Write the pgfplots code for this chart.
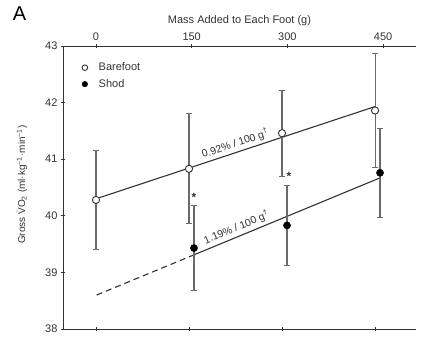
\documentclass[border=0pt]{standalone}
\usepackage{pgfplots}
\pgfplotsset{compat=1.18}
\usepackage{fontspec}
\setmainfont{Liberation Sans}
\definecolor{ink}{HTML}{333333}
\definecolor{ebar}{HTML}{6A6A6A}
\pgfplotstableread{
x y e
0 40.28 0.87
150 40.83 0.97
300 41.46 0.76
450 41.86 1.00
}\barefoot
\pgfplotstableread{
x y e
158 39.43 0.75
308 39.83 0.71
458 40.76 0.79
}\shod
\begin{document}
\begin{tikzpicture}[x=1pt,y=1pt]
\begin{axis}[
  at={(0,0)}, anchor=south west,
  scale only axis, width=353pt, height=283pt,
  xmin=-53.2, xmax=516, ymin=38, ymax=43,
  axis x line*=bottom, axis y line*=left,
  axis line style={-, ink, line width=0.8pt},
  xtick={0,150,300,450}, xticklabels={,,,},
  ytick={38,39,40,41,42,43},
  tick align=center, major tick length=4pt,
  tick style={ink, line width=0.8pt},
  /pgf/number format/assume math mode=true,
  yticklabel style={font=\fontsize{11}{13}\selectfont, text=ink},
  ylabel={Gross \.{V}O\textsubscript{2} (ml·kg\textsuperscript{−1}·min\textsuperscript{−1})},
  ylabel style={font=\fontsize{10}{12}\selectfont, text=ink, at={(axis description cs:-0.116,0.51)}, anchor=center},
  legend style={at={(axis description cs:0.045,0.955)}, anchor=north west, draw=none, fill=none, font=\fontsize{11}{13}\selectfont, text=ink, row sep=3pt, /tikz/every odd column/.append style={column sep=9pt}},
  legend cell align=left,
  clip=false,
]
% regression lines
\addplot[ink, line width=1.1pt, forget plot] coordinates {(0,40.30) (450,41.93)};
\addplot[ink, line width=1.1pt, forget plot] coordinates {(158,39.31) (458,40.67)};
\addplot[ink, line width=1.1pt, dash pattern=on 6pt off 4pt, forget plot] coordinates {(1,38.60) (158,39.31)};
% data
\addplot[only marks, mark=*, mark size=3.6pt, mark options={fill=white, draw=ink, line width=0.9pt}, forget plot,
  error bars/.cd, y dir=both, y explicit,
  error bar style={ebar, line width=1.1pt},
  error mark options={rotate=90, mark size=3pt, ebar, line width=0.9pt}]
  table[x=x, y=y, y error=e] {\barefoot};
\addplot[only marks, mark=*, mark size=3.6pt, mark options={fill=black, draw=black}, forget plot,
  error bars/.cd, y dir=both, y explicit,
  error bar style={ebar, line width=1.1pt},
  error mark options={rotate=90, mark size=3pt, ebar, line width=0.9pt}]
  table[x=x, y=y, y error=e] {\shod};
\addlegendimage{only marks, mark=*, mark size=2.8pt, mark options={fill=white, draw=ink, line width=0.9pt}}
\addlegendentry{Barefoot}
\addlegendimage{only marks, mark=*, mark size=2.8pt, mark options={fill=black, draw=black}}
\addlegendentry{Shod}
% annotations
\node[anchor=south, rotate=18.3, font=\fontsize{10.5}{12}\selectfont, text=ink, inner sep=1.5pt] at (axis cs:228,41.15) {0.92\% / 100 g\textsuperscript{†}};
\node[anchor=south, rotate=22.4, font=\fontsize{10.5}{12}\selectfont, text=ink, inner sep=1.5pt] at (axis cs:231,39.67) {1.19\% / 100 g\textsuperscript{†}};
\node[font=\bfseries\fontsize{12}{14}\selectfont, text=ink] at (axis cs:158,40.32) {*};
\node[font=\bfseries\fontsize{12}{14}\selectfont, text=ink] at (axis cs:311,40.70) {*};
\end{axis}
\begin{axis}[
  at={(0,0)}, anchor=south west,
  scale only axis, width=353pt, height=283pt,
  xmin=-51.7, xmax=501.6, ymin=38, ymax=43,
  axis x line*=top, axis y line=none,
  axis line style={-, ink, line width=0.8pt},
  xtick={0,150,300,450},
  tick align=center, major tick length=4pt,
  tick style={ink, line width=0.8pt},
  /pgf/number format/assume math mode=true,
  xticklabel style={font=\fontsize{11}{13}\selectfont, text=ink},
  xlabel={Mass Added to Each Foot (g)},
  xlabel style={font=\fontsize{11}{13}\selectfont, text=ink},
]
\addplot[draw=none] coordinates {(0,40)};
\end{axis}
\node[font=\fontsize{20}{22}\selectfont, text=black] at (-43.5,315) {A};
\pgfresetboundingbox
\path[use as bounding box] (-63,-15) rectangle (381,329);
\end{tikzpicture}
\end{document}
